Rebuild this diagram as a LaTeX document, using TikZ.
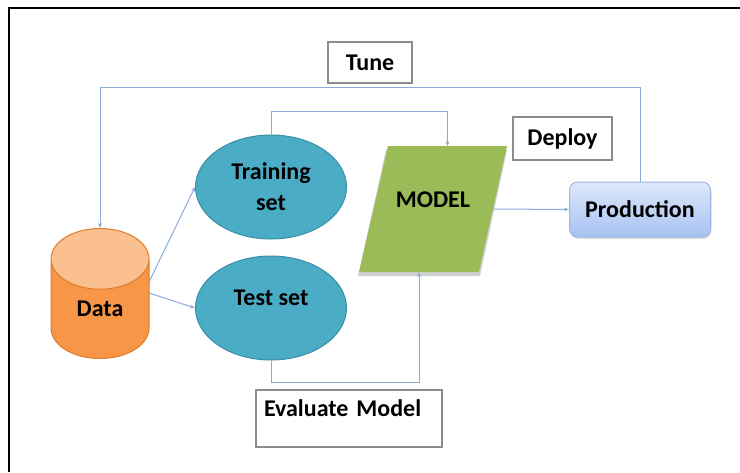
\documentclass[tikz,border=0pt]{standalone}
\usepackage{fontspec}
\setmainfont{Carlito}
\usetikzlibrary{arrows.meta,calc,shapes.geometric,shadows}
\definecolor{DataOrange}{HTML}{F79646}
\definecolor{DataTop}{HTML}{FAC090}
\definecolor{DataEdge}{HTML}{E07B2A}
\definecolor{SetTeal}{HTML}{4BACC6}
\definecolor{SetEdge}{HTML}{3A8FA6}
\definecolor{ModelGreen}{HTML}{9BBB59}
\definecolor{ProdTop}{HTML}{DDE8FA}
\definecolor{ProdBottom}{HTML}{A7C2F2}
\definecolor{ProdEdge}{HTML}{9DB8E4}
\definecolor{LinkBlue}{HTML}{8EAADB}
\definecolor{BoxGray}{HTML}{8C8C8C}

\begin{document}
\begin{tikzpicture}[
    x=1pt, y=-1pt,
    font=\fontsize{24}{31}\selectfont\bfseries,
    >={Stealth[length=5pt,width=4pt]},
    conn/.style={->,line width=1pt,draw=LinkBlue},
    tag/.style={draw=BoxGray,line width=1.2pt,fill=white,inner sep=0pt,
      drop shadow={shadow xshift=1.2pt,shadow yshift=-1.2pt,opacity=0.3}},
    subset/.style={ellipse,draw=SetEdge,line width=1pt,fill=SetTeal,align=center,
      minimum width=151pt,minimum height=104pt,inner sep=0pt}
  ]
  \useasboundingbox (0,0) rectangle (740,472);
  \draw[line width=1.5pt] (9,472) |- (740,8);

  \node[cylinder,shape border rotate=90,aspect=1.3,draw=DataEdge,line width=1pt,
    cylinder uses custom fill,cylinder body fill=DataOrange,cylinder end fill=DataTop,
    minimum width=98pt,minimum height=130pt,inner sep=0pt,anchor=north] (data) at (100,228) {Data};
  \node[subset] (train) at (271,187) {Training\\set};
  \node[subset,text depth=21pt] (test) at (271,308) {Test set};

  % model parallelogram
  \fill[black,opacity=0.18] (358,276) -- (386,150) -- (507,150) -- (480,276) -- cycle;
  \fill[ModelGreen] (359,272) coordinate (mbl) -- (388,146) coordinate (mtl)
    -- (507,146) coordinate (mtr) -- (479,272) coordinate (mbr) -- cycle;
  \node[minimum width=120pt,minimum height=126pt,inner sep=0pt,text depth=19pt] (model) at (433,209) {MODEL};

  \node[draw=ProdEdge,line width=1pt,rounded corners=8pt,top color=ProdTop,bottom color=ProdBottom,
    minimum width=141pt,minimum height=55pt,
    drop shadow={shadow xshift=1pt,shadow yshift=-2pt,opacity=0.25}] (prod) at (640,209.5) {Production};

  \node[tag,minimum width=84pt,minimum height=41pt] (tune) at (370,62.5) {Tune};
  \node[tag,minimum width=99pt,minimum height=43pt] (deploy) at (562.5,138.5) {Deploy};
  \node[tag,minimum width=186pt,minimum height=57pt,text width=170pt,align=left,
    text depth=20pt] (eval) at (349,418.5) {Evaluate Model};

  % data split
  \draw[conn] ($(data.north)+(49,54)$) -- (train.west);
  \draw[conn] ($(data.north)+(49,65)$) -- (test.west);
  % train and evaluate
  \draw[conn] (train.north) -- ++(0,-23) -| ($(mtl)!0.5!(mtr)$);
  \draw[conn] (test.south) -- ++(0,22) -| ($(mbl)!0.5!(mbr)$);
  % deploy and tune
  \draw[conn] ($(mtr)!0.5!(mbr)$) -- (prod.west);
  \draw[conn] (prod.north) -- ++(0,-94) -| (data.north);
\end{tikzpicture}
\end{document}
